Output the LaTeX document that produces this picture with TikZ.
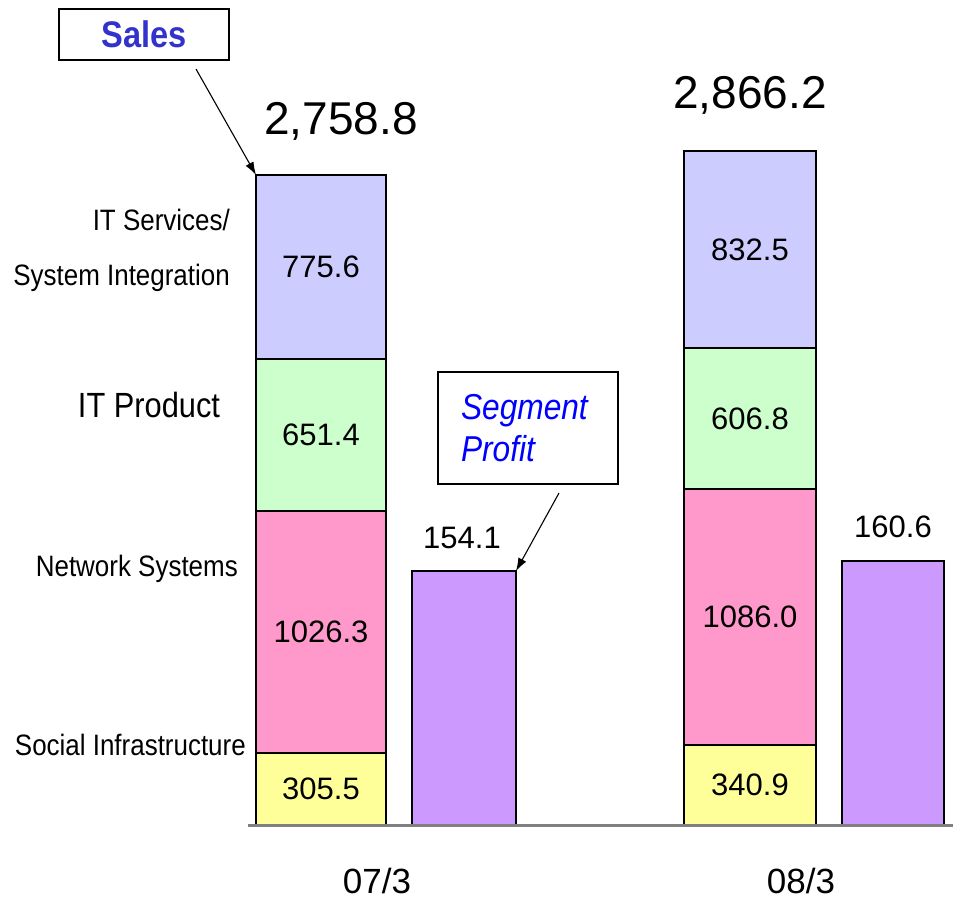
\documentclass[tikz,border=0pt]{standalone}
\usepackage{fontspec}
\setmainfont{Liberation Sans}
\newfontfamily\narrowfont[FakeStretch=0.88]{Liberation Sans}
\usetikzlibrary{arrows.meta}
\definecolor{cIT}{HTML}{CCCCFF}
\definecolor{cPr}{HTML}{CCFFCC}
\definecolor{cNe}{HTML}{FF99CC}
\definecolor{cSo}{HTML}{FFFF99}
\definecolor{cSp}{HTML}{CC99FF}
\definecolor{salesblue}{HTML}{3333CC}
\begin{document}
\begin{tikzpicture}[x=1pt,y=-1pt,
  seg/.style={draw=black,line width=1.6pt,anchor=north west,inner sep=0pt,outer sep=0pt,
    font=\fontsize{31}{33}\selectfont},
  num/.style={font=\fontsize{31}{33}\selectfont,inner sep=0pt},
  big/.style={font=\fontsize{46}{48}\selectfont,inner sep=0pt},
  period/.style={font=\fontsize{35}{37}\selectfont,inner sep=0pt,anchor=base},
  cat/.style={font=\narrowfont\fontsize{29.5}{31}\selectfont,inner sep=0pt,anchor=east},
  callout/.style={draw=black,line width=1.6pt,inner sep=0pt,outer sep=0pt},
  arr/.style={-{Latex[length=13pt,width=9pt]},line width=1.1pt}]
\useasboundingbox (0,0) rectangle (953,902);
% bar 07/3
\node[seg,fill=cIT,minimum width=130pt,minimum height=184pt] (a1) at (256,175) {775.6};
\node[seg,fill=cPr,minimum width=130pt,minimum height=152pt] (a2) at (256,359) {651.4};
\node[seg,fill=cNe,minimum width=130pt,minimum height=242pt] (a3) at (256,511) {1026.3};
\node[seg,fill=cSo,minimum width=130pt,minimum height=72pt] (a4) at (256,753) {305.5};
\node[seg,fill=cSp,minimum width=104pt,minimum height=254pt] (p1) at (412,571) {};
% bar 08/3
\node[seg,fill=cIT,minimum width=132pt,minimum height=197pt] (b1) at (684,151) {832.5};
\node[seg,fill=cPr,minimum width=132pt,minimum height=141pt] (b2) at (684,348) {606.8};
\node[seg,fill=cNe,minimum width=132pt,minimum height=256pt] (b3) at (684,489) {1086.0};
\node[seg,fill=cSo,minimum width=132pt,minimum height=80pt] (b4) at (684,745) {340.9};
\node[seg,fill=cSp,minimum width=102pt,minimum height=264pt] (p2) at (842,561) {};
% baseline
\coordinate (axL) at (248,825);
\coordinate (axR) at (953,825);
\draw[line width=3pt,color=black!50] (axL) -- (axR);
% totals
\node[big] (t1) at (341,121) {2,758.8};
\node[big] (t2) at (750,95) {2,866.2};
\node[num] (v1) at (462,538) {154.1};
\node[num] (v2) at (893,527) {160.6};
% periods
\node[period] (x1) at (377,893) {07/3};
\node[period] (x2) at (801,893) {08/3};
% category labels
\node[cat] (c1) at (230,220) {IT Services/};
\node[cat] (c2) at (230,278) {System Integration};
\node[font=\narrowfont\fontsize{35}{37}\selectfont,inner sep=0pt] (c3) at (149,405) {IT Product};
\node[cat] (c4) at (238,569) {Network Systems};
\node[cat] (c5) at (246,745) {Social Infrastructure};
% callouts
\node[callout,minimum width=170pt,minimum height=51pt,
  font=\narrowfont\bfseries\fontsize{37}{40}\selectfont,text=salesblue] (sales) at (144,34.5) {Sales};
\coordinate (salesTail) at (196,69);
\draw[arr] (salesTail) -- (a1.north west);
\node[callout,minimum width=180pt,minimum height=112pt,align=left,
  font=\narrowfont\itshape\fontsize{36}{42}\selectfont,text=blue,text width=134pt] (segp) at (528,428) {Segment\\Profit};
\coordinate (segTail) at (559,493);
\draw[arr] (segTail) -- (p1.north east);
\end{tikzpicture}
\end{document}
